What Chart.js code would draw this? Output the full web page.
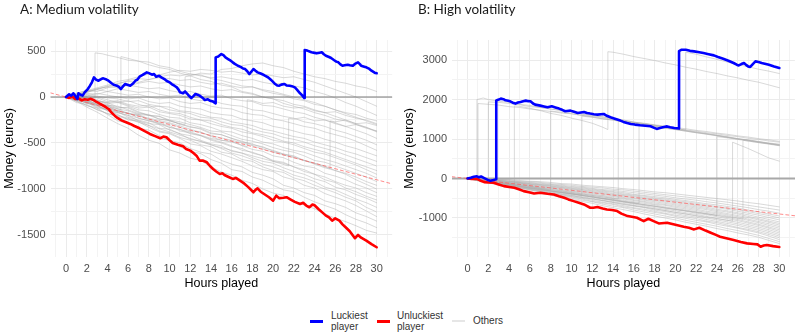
<!DOCTYPE html>
<html>
<head>
<meta charset="utf-8">
<script src="https://cdn.jsdelivr.net/npm/chart.js@4.4.1/dist/chart.umd.min.js"></script>
<style>
  body { margin: 0; background: #fff; }
  #wrap { position: relative; width: 797px; height: 335px; overflow: hidden; }
  canvas { position: absolute; top: 0; }
  #chartA { left: 0; }
  #chartB { left: 400px; }
  .ptitle { position: absolute; top: 0; font-family: Lato, "Liberation Sans", sans-serif; font-size: 13.5px; line-height: 18px; color: #1a1a1a; }
  .lkey { position: absolute; height: 2.5px; width: 13px; top: 320px; }
  .ltxt { position: absolute; font-family: "Liberation Sans", Arial, sans-serif; font-size: 10px; line-height: 10.5px; color: #333; }
</style>
</head>
<body>
<div id="wrap">
  <canvas id="chartA" width="400" height="300"></canvas>
  <canvas id="chartB" width="397" height="300"></canvas>
  <div class="ptitle" style="left:20px">A: Medium volatility</div>
  <div class="ptitle" style="left:418px">B: High volatility</div>
  <div class="lkey" style="left:310px;background:#0000ff"></div>
  <div class="ltxt" style="left:331px;top:311px">Luckiest<br>player</div>
  <div class="lkey" style="left:377px;background:#ff0000"></div>
  <div class="ltxt" style="left:397px;top:311px">Unluckiest<br>player</div>
  <div class="lkey" style="left:452px;background:#e6e6e6;height:1.5px"></div>
  <div class="ltxt" style="left:473px;top:316px">Others</div>
</div>
<script>
// ---- axes ----
const HOURS = [0,1,2,3,4,5,6,7,8,9,10,11,12,13,14,15,16,17,18,19,20,21,22,23,24,25,26,27,28,29,30];
const X_GRID = [-1,0,1,2,3,4,5,6,7,8,9,10,11,12,13,14,15,16,17,18,19,20,21,22,23,24,25,26,27,28,29,30,31];
const X_LABELS = [0,2,4,6,8,10,12,14,16,18,20,22,24,26,28,30];
const Y_TICKS_A = [-1500,-1250,-1000,-750,-500,-250,0,250,500];
const Y_LABELS_A = [-1500,-1000,-500,0,500];
const Y_TICKS_B = [-1500,-1000,-500,0,500,1000,1500,2000,2500,3000];
const Y_LABELS_B = [-1000,0,1000,2000,3000];

// ---- expected loss (red dashed) ----
const A_EXPECTED = [[-1.5,45],[31.5,-945]];
const B_EXPECTED = [[-1.5,45],[31.5,-945]];

// ---- A: medium volatility ----
const A_LUCKY = [[0,0],[0.3,30],[0.5,15],[0.7,40],[0.9,10],[1.1,-20],[1.2,40],[1.4,25],[1.6,15],[1.8,50],[2.1,87],[2.3,120],[2.5,160],[2.7,214],[2.9,190],[3.1,177],[3.4,195],[3.6,203],[3.9,190],[4.1,177],[4.4,150],[4.6,134],[4.9,123],[5.1,110],[5.3,87],[5.5,115],[5.7,141],[6.0,130],[6.2,123],[6.5,150],[6.7,177],[6.9,190],[7.1,221],[7.4,240],[7.6,255],[7.8,268],[8.0,260],[8.3,243],[8.5,250],[8.7,221],[9.0,230],[9.2,214],[9.5,195],[9.7,177],[10.0,160],[10.2,141],[10.5,120],[10.7,105],[10.9,75],[11.0,51],[11.3,40],[11.5,60],[11.8,22],[12.1,-11],[12.3,10],[12.5,33],[12.7,25],[12.9,15],[13.2,-10],[13.4,-33],[13.7,-25],[13.9,-40],[14.2,-50],[14.45,-69],[14.45,431],[14.7,440],[15.0,467],[15.2,455],[15.4,430],[15.65,413],[15.9,395],[16.1,377],[16.3,360],[16.6,340],[16.9,325],[17.1,310],[17.3,304],[17.5,280],[17.7,250],[17.9,275],[18.1,304],[18.3,285],[18.5,268],[18.8,255],[19.0,245],[19.2,232],[19.5,215],[19.7,196],[19.9,175],[20.2,141],[20.4,125],[20.6,123],[20.8,135],[21.1,141],[21.3,125],[21.6,123],[21.8,118],[22.1,105],[22.3,80],[22.6,40],[22.8,20],[23.0,-11],[23.05,511],[23.3,505],[23.7,486],[24.0,480],[24.2,475],[24.5,482],[24.7,486],[24.9,465],[25.1,449],[25.4,435],[25.6,424],[25.9,400],[26.1,385],[26.3,377],[26.5,355],[26.7,340],[26.9,345],[27.2,351],[27.4,345],[27.7,340],[27.9,360],[28.2,377],[28.4,355],[28.5,340],[28.8,330],[29.0,323],[29.3,305],[29.5,286],[29.8,265],[30,258]];
const A_UNLUCKY = [[0,0],[0.3,-10],[0.6,5],[0.9,-20],[1.2,-15],[1.5,-35],[1.8,-25],[2.1,-30],[2.4,-20],[2.6,-29],[2.9,-50],[3.3,-76],[3.7,-100],[4.1,-130],[4.4,-170],[4.7,-203],[5.0,-230],[5.4,-257],[5.8,-275],[6.2,-293],[6.6,-315],[7.1,-340],[7.6,-372],[8.1,-402],[8.6,-425],[9.1,-449],[9.4,-430],[9.7,-438],[10.0,-470],[10.3,-500],[10.8,-520],[11.3,-536],[11.6,-565],[12.0,-583],[12.3,-610],[12.6,-638],[12.9,-692],[13.2,-690],[13.6,-710],[13.9,-750],[14.2,-783],[14.5,-810],[14.85,-837],[15.1,-830],[15.3,-848],[15.7,-870],[16.1,-891],[16.4,-880],[16.8,-910],[17.2,-940],[17.6,-980],[18.1,-1036],[18.3,-1010],[18.5,-993],[18.8,-1030],[19.2,-1060],[19.6,-1090],[20.0,-1127],[20.3,-1073],[20.6,-1100],[21.0,-1095],[21.3,-1090],[21.7,-1115],[22.1,-1140],[22.6,-1163],[22.9,-1150],[23.2,-1180],[23.5,-1199],[23.8,-1170],[24.0,-1178],[24.4,-1220],[24.8,-1260],[25.1,-1290],[25.4,-1310],[25.7,-1345],[26.0,-1320],[26.4,-1345],[26.7,-1385],[27.0,-1417],[27.4,-1460],[27.9,-1536],[28.2,-1500],[28.5,-1530],[29.0,-1562],[29.5,-1600],[30,-1634]];
// other players, hourly (one row per player)
const A_OTHERS = [
  [0,-45,-110,-165,-230,-290,-340,-415,-470,-505,-575,-610,-665,-690,-760,-815,-850,-905,-940,-1000,-1045,-1070,-1130,-1175,-1215,-1270,-1320,-1355,-1400,-1450,-1480],
  [0,-30,-95,-120,-190,-260,-285,-330,-395,-450,-470,-540,-590,-615,-680,-720,-790,-810,-870,-905,-960,-1010,-1030,-1090,-1140,-1180,-1220,-1280,-1330,-1370,-1420],
  [0,-60,-80,-140,-180,-215,-280,-340,-360,-420,-470,-500,-560,-600,-620,-690,-730,-760,-820,-850,-890,-960,-990,-1040,-1070,-1130,-1160,-1200,-1260,-1300,-1350],
  [0,-20,-70,-90,-150,-200,-230,-270,-330,-380,-400,-450,-510,-530,-590,-620,-660,-700,-750,-790,-810,-870,-900,-960,-990,-1050,-1090,-1130,-1180,-1240,-1300],
  [0,-35,-60,-120,-140,-190,-250,-260,-310,-370,-390,-440,-470,-520,-540,-600,-620,-680,-700,-760,-800,-820,-880,-910,-960,-1000,-1040,-1090,-1130,-1200,-1250],
  [0,-10,-50,-110,-130,-160,-220,-250,-280,-340,-350,-400,-460,-480,-520,-560,-610,-640,-680,-730,-760,-800,-850,-880,-920,-980,-1010,-1060,-1110,-1150,-1200],
  [0,-40,-55,-90,-150,-170,-200,-260,-290,-300,-360,-400,-420,-470,-510,-530,-590,-610,-660,-700,-720,-770,-810,-840,-890,-920,-980,-1010,-1060,-1100,-1150],
  [0,5,-40,-80,-100,-150,-180,-200,-250,-290,-310,-370,-390,-420,-470,-500,-540,-560,-610,-640,-700,-720,-760,-810,-840,-900,-930,-990,-1030,-1080,-1120],
  [0,-25,-70,-60,-120,-160,-170,-230,-260,-280,-330,-350,-400,-420,-460,-490,-530,-580,-600,-640,-690,-710,-760,-790,-840,-870,-920,-960,-990,-1040,-1080],
  [0,-30,-30,-80,-100,-130,-180,-190,-240,-270,-290,-330,-370,-380,-430,-470,-480,-530,-570,-590,-640,-660,-710,-750,-770,-830,-860,-900,-950,-990,-1040],
  [0,15,-20,-50,-60,-110,-120,-170,-200,-210,-260,-290,-330,-340,-390,-410,-450,-480,-520,-540,-590,-620,-650,-690,-730,-770,-800,-840,-900,-950,-1000],
  [0,-20,-10,-60,-90,-100,-140,-180,-190,-240,-250,-300,-320,-350,-400,-410,-450,-490,-510,-550,-580,-620,-640,-690,-720,-750,-800,-830,-870,-920,-960],
  [0,-10,-50,-40,-80,-120,-110,-160,-200,-210,-250,-270,-300,-330,-370,-380,-420,-460,-480,-510,-550,-580,-600,-640,-690,-710,-750,-790,-830,-870,-920],
  [0,10,-15,-30,-70,-60,-100,-140,-150,-190,-220,-230,-280,-300,-330,-370,-380,-420,-450,-490,-510,-550,-580,-600,-640,-680,-710,-750,-790,-830,-880],
  [0,-15,0,-40,-60,-50,-90,-120,-110,-160,-180,-200,-240,-250,-290,-320,-340,-380,-400,-430,-470,-490,-520,-560,-600,-620,-660,-700,-740,-790,-840],
  [0,20,0,-10,-50,-40,-80,-100,-90,-140,-170,-180,-220,-250,-260,-300,-330,-350,-390,-410,-440,-480,-500,-540,-570,-600,-640,-680,-720,-760,-800],
  [0,-5,20,0,-30,-60,-40,-80,-110,-100,-140,-160,-180,-220,-230,-270,-300,-310,-350,-380,-400,-440,-460,-490,-530,-560,-590,-630,-670,-710,-750],
  [0,10,30,10,-10,-20,-50,-40,-80,-100,-110,-150,-160,-190,-220,-230,-270,-290,-310,-350,-370,-400,-430,-450,-490,-520,-550,-590,-620,-660,-700],
  [0,25,10,40,20,0,-20,-10,-50,-70,-60,-100,-120,-130,-170,-190,-200,-240,-260,-280,-320,-340,-370,-400,-420,-460,-490,-530,-560,-600,-640],
  [0,15,40,30,60,40,20,30,0,-20,-10,-50,-70,-60,-100,-120,-130,-170,-190,-200,-240,-260,-290,-320,-340,-380,-410,-440,-480,-530,-580],
  [0,30,50,80,60,90,70,50,60,30,10,20,-20,-40,-30,-70,-90,-100,-140,-150,-180,-210,-230,-270,-290,-320,-360,-390,-430,-470,-520],
  [0,20,60,90,110,100,130,110,90,100,70,50,60,30,10,20,-20,-40,-50,-90,-100,-130,-160,-180,-220,-250,-280,-320,-360,-400,-450],
  [0,40,70,60,100,130,120,150,170,150,160,130,110,120,90,70,80,50,30,0,-20,-40,-80,-100,-140,-170,-210,-250,-290,-330,-380],
  [0,30,50,90,110,150,170,160,190,210,200,180,190,160,140,150,120,100,110,80,60,30,0,-30,-60,-100,-140,-180,-220,-260,-300],
  [0,20,60,80,120,140,180,200,190,220,240,230,250,230,210,220,200,180,190,160,140,150,120,100,60,30,-10,-60,-100,-150,-200],
  [0,40,70,100,130,170,190,220,250,240,270,290,280,300,290,270,280,260,240,250,230,210,220,190,160,120,80,40,0,-50,-100]
];
// other players who hit a win, as [hour, euros]
const A_OTHERS_JUMP = [
  [[0,0],[1,-30],[2,-60],[2.8,-20],[2.8,480],[3.5,470],[4,455],[5,430],[6,400],[7,390],[8,350],[9,320],[10,300],[11,260],[12,230],[13,190],[14,170],[15,130],[16,110],[17,60],[18,40],[19,0],[20,-20],[21,-70],[22,-100],[23,-130],[24,-170],[25,-200],[26,-240],[27,-260],[28,-300],[29,-330],[30,-370]],
  [[0,0],[1,-40],[2,-30],[3,-80],[4,-100],[5,-150],[5.3,-140],[5.3,440],[6,420],[7,390],[8,380],[9,340],[10,320],[11,280],[12,250],[13,240],[14,200],[15,180],[16,150],[17,120],[18,110],[19,70],[20,40],[21,20],[22,-20],[23,-40],[24,-80],[25,-100],[26,-140],[27,-170],[28,-190],[29,-230],[30,-260]],
  [[0,0],[1,-20],[2,-50],[3,-80],[4,-90],[5,-130],[6,-150],[7,-190],[8,-200],[9,-240],[10,-260],[11,-290],[11.5,-300],[11.5,220],[12,230],[13,260],[14,250],[15,300],[16,310],[17,340],[18,360],[19,370],[20,340],[21,320],[22,280],[23,250],[24,220],[25,200],[26,170],[27,150],[28,120],[29,100],[30,60]],
  [[0,0],[2,-60],[4,-140],[6,-200],[8,-260],[10,-330],[12,-380],[14,-450],[16,-490],[17.5,-540],[17.5,-30],[18,-40],[19,-70],[20,-60],[21,-100],[22,-120],[23,-110],[24,-150],[25,-170],[26,-160],[27,-200],[28,-230],[29,-250],[30,-290]],
  [[0,0],[2,-90],[4,-180],[6,-240],[8,-310],[10,-380],[12,-450],[14,-520],[16,-580],[18,-640],[20,-700],[21.5,-750],[21.5,-230],[22,-240],[23,-220],[24,-260],[25,-250],[26,-290],[27,-320],[28,-300],[29,-340],[30,-370]],
  [[0,0],[2,-50],[4,-120],[6,-180],[8,-230],[10,-280],[12,-350],[14,-420],[16,-470],[18,-530],[20,-600],[22,-660],[24,-720],[25.5,-780],[25.5,-260],[26,-270],[27,-250],[28,-290],[29,-280],[30,-310]]
];

// ---- B: high volatility ----
const B_LUCKY = [[0,0],[0.3,20],[0.6,45],[0.9,55],[1.1,30],[1.3,50],[1.6,10],[1.9,-30],[2.2,-60],[2.5,-40],[2.76,-20],[2.76,1980],[3.0,2000],[3.2,2024],[3.45,2010],[3.65,1981],[3.9,1970],[4.1,1956],[4.35,1920],[4.6,1898],[4.85,1925],[5.1,1940],[5.35,1960],[5.6,1973],[5.85,1960],[6.05,1956],[6.3,1900],[6.5,1872],[6.75,1860],[7.0,1847],[7.35,1825],[7.7,1804],[8.1,1830],[8.45,1800],[8.8,1771],[9.1,1740],[9.4,1703],[9.9,1720],[10.25,1690],[10.6,1662],[11.2,1687],[11.5,1660],[11.8,1645],[12.15,1630],[12.5,1619],[13.1,1636],[13.4,1590],[13.75,1551],[14.1,1520],[14.4,1493],[14.7,1467],[15.0,1434],[15.35,1405],[15.7,1383],[16.1,1366],[16.6,1349],[17.1,1335],[17.6,1323],[17.9,1290],[18.2,1257],[18.6,1285],[18.9,1307],[19.2,1320],[19.5,1298],[19.9,1280],[20.35,1265],[20.35,3230],[20.6,3264],[21.0,3264],[21.4,3235],[21.8,3221],[22.3,3200],[22.7,3180],[23.2,3150],[23.7,3120],[24.1,3080],[24.6,3036],[25.1,2985],[25.6,2927],[25.9,2884],[26.1,2866],[26.35,2900],[26.6,2927],[26.8,2880],[27.0,2841],[27.2,2826],[27.45,2900],[27.7,2968],[28.0,2950],[28.3,2927],[28.6,2910],[29.0,2884],[29.5,2840],[30,2800]];
const B_UNLUCKY = [[0,0],[0.4,-10],[0.9,-8],[1.2,-50],[1.6,-93],[2.0,-100],[2.5,-110],[3.0,-150],[3.5,-194],[4.0,-215],[4.5,-236],[5.0,-280],[5.4,-320],[5.9,-350],[6.4,-380],[7.0,-363],[7.7,-388],[8.3,-405],[8.8,-450],[9.3,-489],[9.7,-530],[10.2,-574],[10.7,-615],[11.2,-658],[11.8,-742],[12.1,-742],[12.5,-725],[13.0,-760],[13.4,-784],[13.9,-800],[14.4,-826],[14.8,-890],[15.4,-953],[15.8,-970],[16.3,-995],[16.95,-1080],[17.4,-1020],[17.9,-1080],[18.4,-1139],[19.2,-1122],[19.8,-1160],[20.3,-1190],[20.8,-1223],[21.3,-1250],[21.8,-1290],[22.3,-1248],[22.9,-1320],[23.4,-1375],[23.9,-1430],[24.3,-1475],[25.0,-1520],[25.6,-1560],[26.3,-1610],[26.9,-1645],[27.5,-1660],[27.9,-1670],[28.2,-1729],[28.5,-1700],[28.8,-1687],[29.4,-1715],[30,-1737]];
const B_OTHERS = [
  [0,-60,-110,-170,-220,-270,-330,-380,-420,-480,-530,-580,-630,-690,-740,-790,-840,-900,-950,-1000,-1050,-1110,-1160,-1210,-1270,-1320,-1380,-1430,-1490,-1570,-1650],
  [0,-50,-100,-140,-200,-250,-290,-350,-400,-440,-500,-550,-590,-650,-700,-740,-800,-850,-900,-950,-1000,-1060,-1110,-1160,-1210,-1270,-1320,-1380,-1440,-1520,-1600],
  [0,-40,-90,-150,-190,-230,-290,-330,-380,-430,-470,-520,-580,-620,-660,-720,-760,-810,-860,-900,-960,-1010,-1060,-1100,-1160,-1210,-1260,-1320,-1380,-1460,-1550],
  [0,-55,-95,-130,-180,-240,-270,-320,-370,-410,-460,-500,-550,-600,-640,-690,-740,-780,-830,-880,-930,-970,-1020,-1080,-1120,-1180,-1240,-1290,-1350,-1420,-1500],
  [0,-30,-80,-130,-160,-210,-260,-300,-340,-390,-430,-480,-520,-560,-610,-660,-700,-740,-800,-840,-890,-940,-980,-1040,-1090,-1140,-1190,-1250,-1310,-1380,-1460],
  [0,-45,-70,-120,-170,-200,-250,-290,-330,-370,-420,-460,-500,-550,-590,-630,-680,-720,-770,-810,-860,-900,-950,-1000,-1050,-1100,-1150,-1210,-1270,-1340,-1420],
  [0,-20,-70,-110,-140,-190,-230,-260,-310,-350,-390,-430,-470,-520,-560,-600,-650,-690,-740,-780,-820,-870,-910,-960,-1010,-1060,-1110,-1170,-1230,-1300,-1380],
  [0,-35,-60,-100,-140,-170,-210,-250,-290,-330,-370,-410,-450,-500,-530,-580,-620,-660,-700,-750,-790,-830,-880,-920,-970,-1020,-1070,-1130,-1190,-1260,-1340],
  [0,-10,-50,-90,-120,-160,-200,-240,-270,-310,-350,-390,-430,-470,-510,-550,-590,-630,-670,-720,-760,-800,-840,-890,-940,-990,-1040,-1100,-1160,-1230,-1300],
  [0,-40,-55,-80,-130,-150,-190,-230,-250,-300,-330,-370,-410,-440,-490,-520,-560,-600,-650,-680,-730,-770,-810,-860,-900,-950,-1000,-1060,-1120,-1190,-1260],
  [0,-20,-45,-90,-110,-140,-180,-210,-240,-280,-320,-350,-390,-430,-460,-500,-540,-580,-620,-660,-700,-740,-780,-830,-870,-920,-970,-1030,-1090,-1150,-1220],
  [0,-30,-40,-70,-110,-130,-160,-200,-230,-260,-300,-330,-370,-400,-440,-480,-510,-550,-590,-630,-670,-710,-750,-790,-840,-890,-940,-990,-1050,-1110,-1180],
  [0,-15,-40,-60,-100,-120,-150,-180,-220,-240,-280,-310,-350,-380,-420,-450,-490,-530,-560,-600,-640,-680,-720,-760,-810,-850,-900,-960,-1020,-1080,-1140],
  [0,-25,-30,-70,-90,-110,-150,-170,-200,-230,-270,-290,-330,-360,-400,-430,-460,-500,-540,-570,-610,-650,-690,-730,-780,-820,-870,-920,-980,-1040,-1100],
  [0,-5,-35,-50,-80,-110,-130,-160,-190,-220,-250,-280,-310,-340,-380,-410,-440,-480,-510,-550,-580,-620,-660,-700,-740,-780,-830,-880,-930,-990,-1050],
  [0,-20,-30,-60,-70,-100,-130,-150,-180,-200,-240,-260,-290,-320,-350,-390,-420,-450,-490,-520,-560,-590,-630,-670,-710,-750,-790,-840,-890,-940,-1000],
  [0,-10,-20,-50,-70,-90,-110,-140,-160,-190,-220,-240,-270,-300,-330,-360,-400,-430,-460,-490,-530,-560,-600,-640,-670,-710,-750,-800,-850,-900,-950],
  [0,0,-25,-40,-60,-80,-100,-120,-150,-170,-200,-220,-250,-280,-300,-330,-360,-390,-420,-450,-490,-520,-550,-590,-620,-660,-700,-740,-790,-830,-880],
  [0,10,-10,-30,-40,-70,-80,-100,-130,-150,-170,-200,-220,-240,-270,-290,-320,-350,-380,-410,-440,-470,-500,-530,-570,-600,-640,-680,-720,-760,-800],
  [0,5,0,-20,-30,-50,-70,-80,-100,-130,-140,-170,-190,-210,-230,-260,-280,-310,-340,-360,-390,-420,-450,-480,-510,-540,-570,-610,-640,-680,-720]
];
const B_OTHERS_JUMP = [
  [[0,0],[0.5,-20],[0.9,-30],[0.9,2000],[1.5,2040],[2,2000],[3,1960],[4,1930],[5,1880],[6,1850],[7,1800],[8,1760],[9,1730],[10,1690],[11,1640],[12,1600],[13,1560],[14,1520],[15,1480],[16,1430],[17,1390],[18,1350],[19,1310],[20,1260],[21,1220],[22,1180],[23,1140],[24,1100],[25,1060],[26,1010],[27,970],[28,920],[29,880],[30,840]],
  [[0,0],[0.6,-10],[1.0,-30],[1.0,1900],[2,1880],[3,1860],[4,1820],[5,1800],[6,1760],[7,1730],[8,1700],[9,1660],[10,1640],[11,1600],[12,1570],[13,1530],[14,1500],[15,1460],[16,1420],[17,1400],[18,1360],[19,1330],[20,1290],[21,1260],[22,1220],[23,1190],[24,1150],[25,1120],[26,1080],[27,1050],[28,1010],[29,980],[30,940]],
  [[0,0],[1,-40],[2,-60],[3,-110],[4,-140],[4.5,-160],[4.5,1840],[5,1830],[6,1780],[7,1720],[8,1650],[9,1600],[10,1530],[11,1470],[12,1400],[13,1300],[13.5,1240],[13.5,3213],[14,3200],[15,3150],[16,3090],[17,3040],[18,2990],[19,2930],[20,2880],[21,2820],[22,2770],[23,2710],[24,2660],[25,2600],[26,2550],[27,2490],[28,2440],[29,2370],[30,2300]],
  [[0,0],[1,-30],[2,-60],[2,1940],[3,1930],[4,1900],[5,1870],[6,1820],[7,1800],[8,1760],[9,1720],[10,1680],[11,1630],[12,1590],[13,1560],[14,1520],[15,1480],[16,1430],[17,1390],[18,1350],[19,1310],[20,1270],[21,1230],[21,3200],[22,3150],[23,3080],[24,3020],[25,2950],[26,2890],[27,2830],[28,2770],[29,2720],[30,2660]],
  [[0,0],[2,-70],[4,-150],[6,-220],[8,-290],[8,1710],[9,1680],[10,1640],[11,1600],[12,1560],[13,1510],[14,1480],[15,1430],[16,1400],[17,1350],[18,1320],[19,1270],[20,1240],[21,1200],[22,1160],[23,1120],[24,1080],[25,1040],[26,1000],[27,970],[28,930],[29,890],[30,860]],
  [[0,0],[2,-80],[4,-170],[6,-250],[8,-320],[10,-380],[11,-420],[11,1580],[12,1550],[13,1510],[14,1480],[15,1440],[16,1410],[17,1370],[18,1340],[19,1300],[20,1270],[21,1230],[22,1200],[23,1160],[24,1130],[25,1090],[26,1060],[27,1020],[28,990],[29,950],[30,920]],
  [[0,0],[2,-80],[4,-160],[6,-240],[8,-310],[10,-390],[12,-460],[14,-540],[16,-610],[16.5,-630],[16.5,1370],[17,1350],[18,1310],[19,1280],[20,1240],[21,1200],[22,1160],[23,1130],[24,1090],[25,1050],[26,1010],[27,980],[28,940],[29,900],[30,870]],
  [[0,0],[3,-100],[6,-200],[9,-320],[12,-430],[14.5,-520],[14.5,1480],[16,1410],[18,1330],[20,1250],[22,1170],[24,1090],[26,1000],[28,930],[30,850]],
  [[0,0],[3,-110],[6,-230],[9,-360],[12,-470],[15,-590],[18,-710],[21,-820],[24,-940],[24,1060],[25,1030],[26,990],[27,950],[28,910],[29,870],[30,830]],
  [[0,0],[3,-120],[6,-240],[9,-350],[12,-470],[15,-590],[18,-700],[21,-820],[24,-930],[26.5,-1030],[26.5,970],[27,950],[28,910],[29,880],[30,840]],
  [[0,0],[3,-140],[6,-270],[9,-400],[12,-520],[15,-650],[18,-770],[21,-900],[24,-1020],[25.5,-1080],[25.5,920],[27,760],[28,640],[29,520],[30,440]]
];

const TICK_FONT = { family: '"Liberation Sans", Arial, sans-serif', size: 11 };
const TITLE_FONT = { family: '"Liberation Sans", Arial, sans-serif', size: 12.5 };
const GREY_LINE = 'rgba(170,170,170,0.45)';

const pairs = arr => arr.map(p => ({ x: p[0], y: p[1] }));
const hourly = vals => HOURS.map((h, i) => ({ x: h, y: vals[i] }));

function makePanel(id, p) {
  const datasets = [
    { data: pairs(p.lucky), borderColor: '#0000ff', borderWidth: 2.6, order: 0 },
    { data: pairs(p.unlucky), borderColor: '#ff0000', borderWidth: 2.6, order: 1 },
    { data: pairs(p.expected), borderColor: 'rgba(255,90,90,0.7)', borderWidth: 1, borderDash: [3, 3], order: 2 },
    { data: [{ x: -1.5, y: 0 }, { x: 31.5, y: 0 }], borderColor: p.zeroColor, borderWidth: p.zeroWidth, order: 3 }
  ];
  p.others.forEach(v => datasets.push({ data: hourly(v), borderColor: GREY_LINE, borderWidth: 1, order: 10 }));
  p.jumps.forEach(v => datasets.push({ data: pairs(v), borderColor: GREY_LINE, borderWidth: 1, order: 10 }));

  return new Chart(document.getElementById(id), {
    type: 'line',
    data: { datasets },
    options: {
      responsive: false,
      animation: false,
      events: [],
      layout: { padding: { top: 40, right: p.padRight, left: 0, bottom: 0 } },
      elements: { point: { radius: 0 }, line: { tension: 0, borderJoinStyle: 'round', borderCapStyle: 'round' } },
      plugins: { legend: { display: false }, tooltip: { enabled: false } },
      scales: {
        x: {
          type: 'linear', min: -1.5, max: 31.5,
          afterBuildTicks: s => { s.ticks = X_GRID.map(v => ({ value: v })); },
          afterFit: s => { s.height = 43; },
          border: { display: false },
          grid: {
            drawTicks: false,
            color: c => (X_LABELS.includes(c.tick.value) ? '#ebebeb' : '#f3f3f3'),
            lineWidth: 1
          },
          ticks: {
            autoSkip: false, maxRotation: 0, minRotation: 0, padding: 5,
            color: '#4d4d4d', font: TICK_FONT,
            callback: v => (X_LABELS.includes(v) ? String(v) : '')
          },
          title: { display: true, text: 'Hours played', color: '#000', font: TITLE_FONT, padding: { top: 0, bottom: 9 } }
        },
        y: {
          type: 'linear', min: p.yMin, max: p.yMax,
          afterBuildTicks: s => { s.ticks = p.yTicks.map(v => ({ value: v })); },
          afterFit: s => { s.width = p.yWidth; },
          border: { display: false },
          grid: {
            drawTicks: false,
            color: c => (p.yLabels.includes(c.tick.value) ? '#ebebeb' : '#f3f3f3'),
            lineWidth: 1
          },
          ticks: {
            padding: 5, color: '#4d4d4d', font: TICK_FONT,
            callback: v => (p.yLabels.includes(v) ? String(v) : '')
          },
          title: { display: true, text: 'Money (euros)', color: '#000', font: TITLE_FONT, padding: { top: p.yTitlePad, bottom: 0 } }
        }
      }
    }
  });
}

makePanel('chartA', {
  lucky: A_LUCKY, unlucky: A_UNLUCKY, expected: A_EXPECTED, others: A_OTHERS, jumps: A_OTHERS_JUMP,
  yMin: -1740, yMax: 620, yTicks: Y_TICKS_A, yLabels: Y_LABELS_A,
  yWidth: 50.5, padRight: 7.8, yTitlePad: 2, zeroColor: '#7a7a7a', zeroWidth: 1.2
});
makePanel('chartB', {
  lucky: B_LUCKY, unlucky: B_UNLUCKY, expected: B_EXPECTED, others: B_OTHERS, jumps: B_OTHERS_JUMP,
  yMin: -1990, yMax: 3510, yTicks: Y_TICKS_B, yLabels: Y_LABELS_B,
  yWidth: 52, padRight: 2.1, yTitlePad: 2.5, zeroColor: '#a8a8a8', zeroWidth: 2
});
</script>
</body>
</html>
